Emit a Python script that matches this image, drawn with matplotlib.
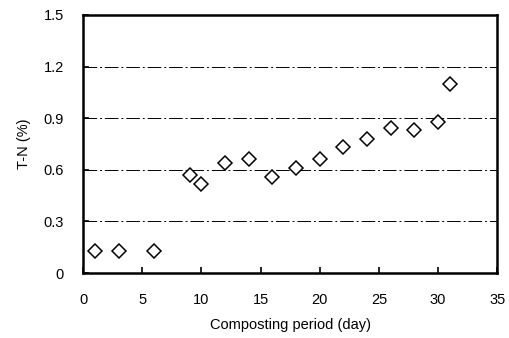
import matplotlib
matplotlib.use("Agg")
import matplotlib.pyplot as plt

plt.rcParams['font.family'] = ['Liberation Sans', 'DejaVu Sans']

# composting day and total nitrogen
days = [1, 3, 6, 9, 10, 12, 14, 16, 18, 20, 22, 24, 26, 28, 30, 31]
tn = [0.13, 0.13, 0.13, 0.57, 0.52, 0.64, 0.66, 0.56, 0.61, 0.66, 0.73, 0.78, 0.84, 0.83, 0.88, 1.10]
yticks = [0, 0.3, 0.6, 0.9, 1.2, 1.5]
ytick_labels = ['0', '0.3', '0.6', '0.9', '1.2', '1.5']
xticks = [0, 5, 10, 15, 20, 25, 30, 35]

fig = plt.figure(figsize=(5.1, 3.38), dpi=100)
ax = fig.add_axes([0.163, 0.192, 0.812, 0.764])

# broken horizontal gridlines like the scan
for y in yticks[1:-1]:
    ax.axhline(y, color='black', lw=0.7, linestyle=(0, (14, 3, 2, 3)), zorder=1)

ax.plot(days, tn, linestyle='none', marker='D', markersize=7,
        markerfacecolor='white', markeredgecolor='black', markeredgewidth=1.1, zorder=3)

ax.set_xlim(0, 35)
ax.set_ylim(0, 1.5)
ax.set_xticks(xticks)
ax.set_yticks(yticks)
ax.set_yticklabels(ytick_labels)
ax.tick_params(direction='in', length=4, width=1.2, labelsize=10.5)
ax.tick_params(axis='x', pad=14)
ax.tick_params(axis='y', pad=14)
for s in ax.spines.values():
    s.set_linewidth(1.8)

ax.set_xlabel('Composting period (day)', fontsize=10.5, labelpad=8)
ax.set_ylabel('T-N (%)', fontsize=10.5, labelpad=9)

fig.savefig('out.png', dpi=100)
